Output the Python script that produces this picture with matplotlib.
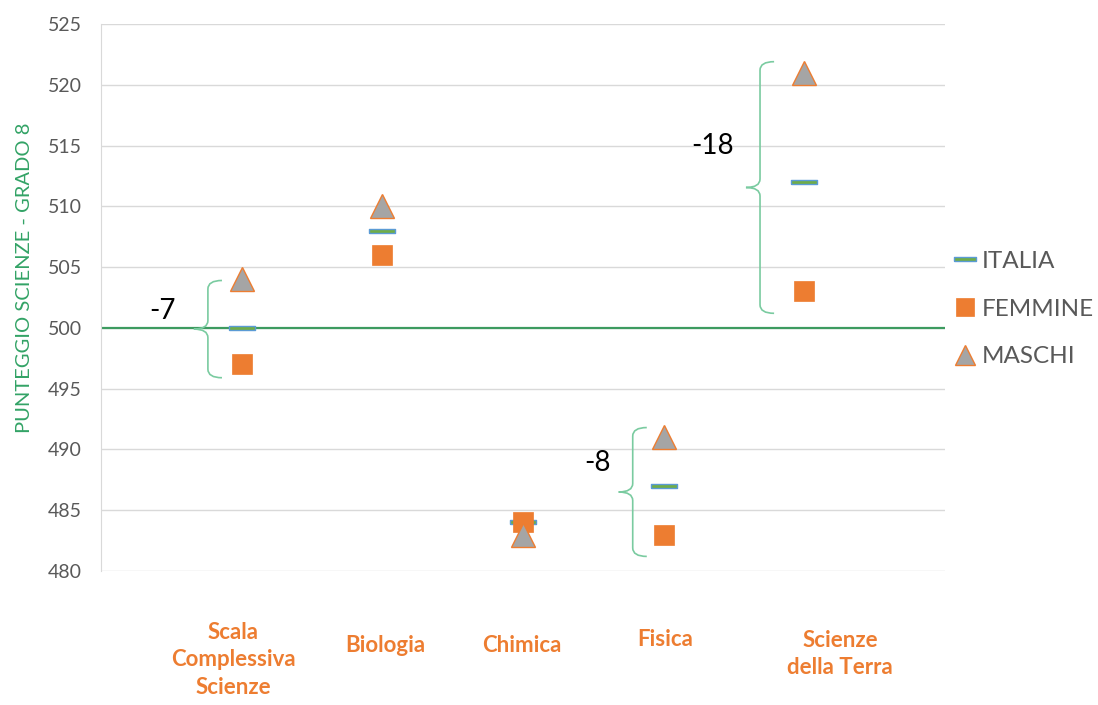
import matplotlib.pyplot as plt
from matplotlib.path import Path
from matplotlib.patches import PathPatch

# ===== DATA =====
categorie = ["Scala\nComplessiva\nScienze", "Biologia", "Chimica", "Fisica", "Scienze\ndella Terra"]
italia = [500, 508, 484, 487, 512]
femmine = [497, 506, 484, 483, 503]
maschi = [504, 510, 483, 491, 521]
y_ticks = [480, 485, 490, 495, 500, 505, 510, 515, 520, 525]
differenze = ["-7", "-8", "-18"]

# ===== STYLE =====
ORANGE = "#ed7d31"
GRAY = "#a5a5a5"
GREEN = "#70ad47"
BLUE = "#5b9bd5"
TEXT = "#595959"
plt.rcParams['font.family'] = ['Lato', 'DejaVu Sans']

fig = plt.figure(figsize=(10.98, 7.05), dpi=100)
ax = fig.add_axes([101 / 1098, 1 - 571 / 705, 844 / 1098, 547 / 705])

x = list(range(1, len(categorie) + 1))

# dash marker for ITALIA
dash = [(-1, -0.18), (1, -0.18), (1, 0.18), (-1, 0.18), (-1, -0.18)]

ax.axhline(500, color="#3d9b60", lw=1.6, zorder=2)

ax.plot(x, italia, ls="none", marker=dash, markersize=19,
        markerfacecolor=GREEN, markeredgecolor=BLUE, markeredgewidth=1,
        label="ITALIA", zorder=3)
ax.plot(x, femmine, ls="none", marker="s", markersize=15,
        markerfacecolor=ORANGE, markeredgecolor=ORANGE, markeredgewidth=0.5,
        label="FEMMINE", zorder=4)
ax.plot(x, maschi, ls="none", marker="^", markersize=17,
        markerfacecolor=GRAY, markeredgecolor=ORANGE, markeredgewidth=1,
        label="MASCHI", zorder=5)

# ===== AXES =====
ax.set_xlim(0, 6)
ax.set_ylim(480, 525)
ax.set_yticks(y_ticks)
ax.set_xticks([])
ax.tick_params(axis="y", length=0, pad=14, labelsize=14, labelcolor=TEXT)
ax.grid(axis="y", color="#d9d9d9", lw=1)
ax.set_axisbelow(True)
for s in ["top", "right", "bottom"]:
    ax.spines[s].set_visible(False)
ax.spines["left"].set_color("#d9d9d9")

fig.text(25 / 1098, 1 - 278 / 705, "PUNTEGGIO SCIENZE - GRADO 8",
         rotation=90, ha="center", va="center", fontsize=14.5, color="#33a366")


# ===== BRACES =====
def brace(x0, ytop, ybot, w=0.1, r=0.7):
    ymid = (ytop + ybot) / 2
    verts = [(x0 + w, ytop), (x0, ytop), (x0, ytop - r),
             (x0, ymid + r), (x0, ymid), (x0 - w, ymid),
             (x0, ymid), (x0, ymid - r),
             (x0, ybot + r), (x0, ybot), (x0 + w, ybot)]
    codes = [Path.MOVETO, Path.CURVE3, Path.CURVE3,
             Path.LINETO, Path.CURVE3, Path.CURVE3,
             Path.CURVE3, Path.CURVE3,
             Path.LINETO, Path.CURVE3, Path.CURVE3]
    ax.add_patch(PathPatch(Path(verts, codes), fill=False,
                           edgecolor="#7acba0", lw=1.2, zorder=2))


brace(0.76, 503.9, 495.9)
brace(3.78, 491.8, 481.2)
brace(4.685, 521.9, 501.2)

ax.text(0.434, 501.4, differenze[0], ha="center", va="center", fontsize=20)
ax.text(3.53, 488.9, differenze[1], ha="center", va="center", fontsize=20)
ax.text(4.35, 515.0, differenze[2], ha="center", va="center", fontsize=20)

# ===== CATEGORY LABELS =====
label_pos = [(233, 660), (385, 646), (522, 646), (665, 640), (840, 654)]
for lab, (px, py) in zip(categorie, label_pos):
    fig.text(px / 1098, 1 - py / 705, lab, ha="center", va="center",
             fontsize=16, fontweight="bold", color=ORANGE, linespacing=1.4)

# ===== LEGEND =====
ax.legend(loc="center left", bbox_to_anchor=(953 / 1098, 1 - 309 / 705),
          bbox_transform=fig.transFigure, frameon=False, fontsize=17.5,
          labelcolor=TEXT, handlelength=1.0, handletextpad=0.2,
          labelspacing=1.1, borderpad=0, borderaxespad=0, markerscale=0.85)

fig.savefig("out.png", dpi=100)
